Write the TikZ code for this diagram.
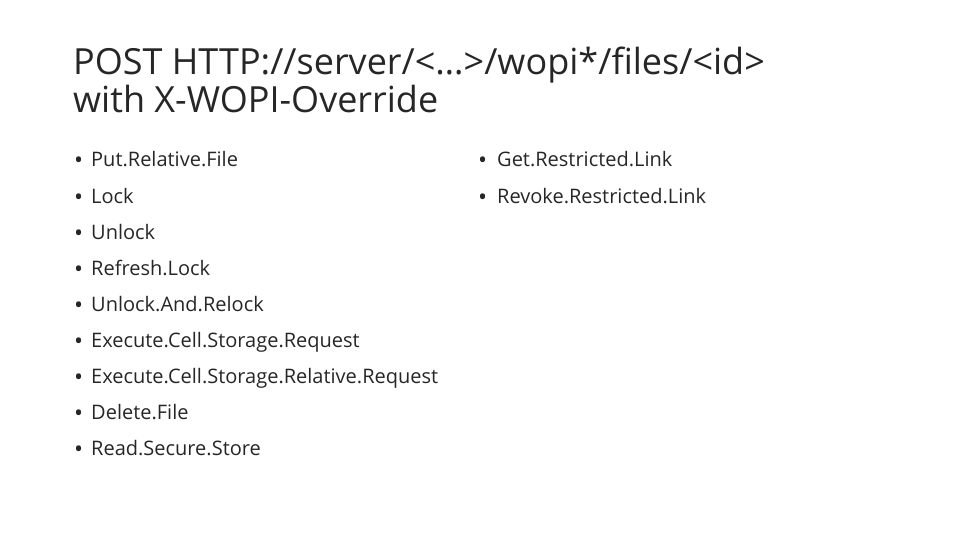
\documentclass[tikz,border=0pt]{standalone}
\usepackage{fontspec}
\setmainfont{Open Sans}
\begin{document}
\begin{tikzpicture}[x=1pt,y=-1pt,
  title/.style={anchor=base west,inner sep=0pt,font=\fontsize{36}{40}\selectfont,text=black!85},
  item/.style={anchor=base west,inner sep=0pt,font=\fontsize{20}{24}\selectfont,text=black!85},
  dot/.style={anchor=base west,inner sep=0pt,font=\fontsize{24}{24}\selectfont,text=black!85}]
\useasboundingbox (0,0) rectangle (960,540);
\node[title] (t1) at (73,75) {POST HTTP://server/<…>/wopi*/files/<id>};
\node[title] (t2) at (73,113) {with X-WOPI-Override};
\foreach \txt [count=\i] in {Put.Relative.File,Lock,Unlock,Refresh.Lock,Unlock.And.Relock,Execute.Cell.Storage.Request,Execute.Cell.Storage.Relative.Request,Delete.File,Read.Secure.Store}{
  \node[dot] (lb\i) at (74,{169+36*(\i-1)}) {•};
  \node[item] (l\i) at (91,{167+36*(\i-1)}) {\txt};
}
\foreach \txt [count=\i] in {Get.Restricted.Link,Revoke.Restricted.Link}{
  \node[dot] (rb\i) at (478,{169+36*(\i-1)}) {•};
  \node[item] (r\i) at (497,{167+36*(\i-1)}) {\txt};
}
\end{tikzpicture}
\end{document}
